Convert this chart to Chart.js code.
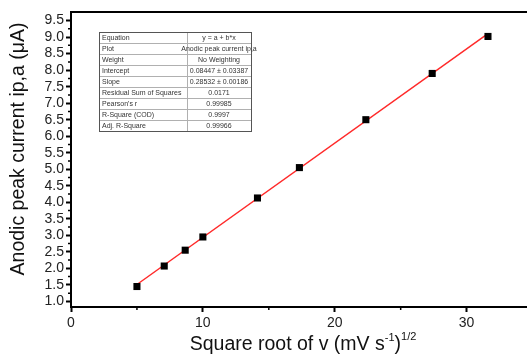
<!DOCTYPE html>
<html>
<head>
<meta charset="utf-8">
<script src="https://cdn.jsdelivr.net/npm/chart.js@4/dist/chart.umd.min.js"></script>
<style>
  html, body { margin: 0; padding: 0; background: #fff; }
  #wrap { width: 527px; height: 356px; }
</style>
</head>
<body>
<div id="wrap"><canvas id="c" width="527" height="356"></canvas></div>
<script>
// data
let sqrtScanRate = [5.0, 7.07, 8.66, 10.0, 14.14, 17.32, 22.36, 27.39, 31.62];
let peakCurrent = [1.45, 2.07, 2.55, 2.95, 4.13, 5.05, 6.50, 7.90, 9.02];

let fitIntercept = 0.08447;
let fitSlope = 0.28532;
let fitRange = [5.0, 31.62];

let xTicks = [0, 10, 20, 30];
let xMinorTicks = [5, 15, 25];
let yTicks = [1.0, 1.5, 2.0, 2.5, 3.0, 3.5, 4.0, 4.5, 5.0, 5.5, 6.0, 6.5, 7.0, 7.5, 8.0, 8.5, 9.0, 9.5];

let tableRows = [
	["Equation", "y = a + b*x"],
	["Plot", "Anodic peak current ip,a"],
	["Weight", "No Weighting"],
	["Intercept", "0.08447 \u00b1 0.03387"],
	["Slope", "0.28532 \u00b1 0.00186"],
	["Residual Sum of Squares", "0.0171"],
	["Pearson's r", "0.99985"],
	["R-Square (COD)", "0.9997"],
	["Adj. R-Square", "0.99966"]
];

let fitLine = fitRange.map(x => ({ x: x, y: fitIntercept + fitSlope * x }));
let points = sqrtScanRate.map((x, i) => ({ x: x, y: peakCurrent[i] }));

const FONT = "'Liberation Sans', Arial, sans-serif";

// frame, minor ticks, axis titles and the fit table
let decorPlugin = {
	id: "decor",
	afterDraw(chart) {
		let ctx = chart.ctx;
		let a = chart.chartArea;
		let xs = chart.scales.x, ys = chart.scales.y;
		let W = chart.width;
		ctx.save();

		ctx.strokeStyle = "#000";
		ctx.lineWidth = 2;
		ctx.beginPath();
		ctx.moveTo(a.left, a.top);
		ctx.lineTo(W, a.top);
		ctx.moveTo(a.left, a.top - 1);
		ctx.lineTo(a.left, a.bottom);
		ctx.lineTo(W, a.bottom);
		ctx.stroke();

		// minor ticks
		ctx.lineWidth = 1.5;
		ctx.beginPath();
		for (let i = 0; i < yTicks.length - 1; i++) {
			let py = ys.getPixelForValue((yTicks[i] + yTicks[i + 1]) / 2);
			ctx.moveTo(a.left - 3, py);
			ctx.lineTo(a.left, py);
		}
		xMinorTicks.forEach(v => {
			let px = xs.getPixelForValue(v);
			ctx.moveTo(px, a.bottom);
			ctx.lineTo(px, a.bottom + 3);
		});
		ctx.stroke();

		// axis titles
		ctx.fillStyle = "#111";
		ctx.font = "19.5px " + FONT;
		ctx.textAlign = "center";
		ctx.textBaseline = "middle";
		ctx.save();
		ctx.translate(19, 149);
		ctx.rotate(-Math.PI / 2);
		ctx.fillText("Anodic peak current ip,a (\u03bcA)", 0, 0);
		ctx.restore();

		let parts = [
			["Square root of v (mV s", 19.5, 0],
			["-1", 11, -7],
			[")", 19.5, 0],
			["1/2", 11, -8]
		];
		let total = 0;
		parts.forEach(p => { ctx.font = p[1] + "px " + FONT; total += ctx.measureText(p[0]).width; });
		let tx = 303 - total / 2;
		ctx.textAlign = "left";
		parts.forEach(p => {
			ctx.font = p[1] + "px " + FONT;
			ctx.fillText(p[0], tx, 345 + p[2]);
			tx += ctx.measureText(p[0]).width;
		});

		// fit table
		let left = 99, mid = 187, right = 251, top = 32, rowH = 11;
		let bottom = top + rowH * tableRows.length;
		ctx.fillStyle = "#fff";
		ctx.fillRect(left, top, right - left, bottom - top);
		ctx.strokeStyle = "#b0b0b0";
		ctx.lineWidth = 1;
		ctx.beginPath();
		for (let i = 1; i < tableRows.length; i++) {
			ctx.moveTo(left, top + i * rowH + 0.5);
			ctx.lineTo(right, top + i * rowH + 0.5);
		}
		ctx.moveTo(mid + 0.5, top);
		ctx.lineTo(mid + 0.5, bottom);
		ctx.stroke();
		ctx.strokeStyle = "#555";
		ctx.strokeRect(left + 0.5, top + 0.5, right - left, bottom - top);

		ctx.fillStyle = "#333";
		ctx.font = "7px " + FONT;
		ctx.textBaseline = "middle";
		tableRows.forEach((r, i) => {
			let cy = top + i * rowH + rowH / 2 + 1;
			ctx.textAlign = "left";
			ctx.fillText(r[0], left + 3, cy);
			ctx.textAlign = "center";
			ctx.fillText(r[1], (mid + right) / 2, cy);
		});

		ctx.restore();
	}
};

new Chart(document.getElementById("c"), {
	type: "scatter",
	data: {
		datasets: [
			{
				type: "line",
				data: fitLine,
				borderColor: "#ff2a2a",
				borderWidth: 1.5,
				pointRadius: 0,
				fill: false,
				order: 2
			},
			{
				data: points,
				pointStyle: "rect",
				pointRadius: 5,
				backgroundColor: "#000",
				borderColor: "#000",
				borderWidth: 0,
				order: 1
			}
		]
	},
	options: {
		responsive: false,
		animation: false,
		layout: { padding: { top: 12, right: 0, left: 0, bottom: 0 } },
		plugins: { legend: { display: false }, tooltip: { enabled: false } },
		scales: {
			x: {
				type: "linear",
				min: 0,
				max: 34.2,
				afterFit(scale) { scale.height = 49; },
				afterBuildTicks(scale) { scale.ticks = xTicks.map(v => ({ value: v })); },
				border: { display: false },
				grid: { drawOnChartArea: false, drawTicks: true, tickLength: 5, tickColor: "#000", tickWidth: 2 },
				ticks: { color: "#222", font: { family: FONT, size: 14 }, padding: 3, maxRotation: 0, autoSkip: false }
			},
			y: {
				type: "linear",
				min: 0.83,
				max: 9.76,
				afterFit(scale) { scale.width = 71; },
				afterBuildTicks(scale) { scale.ticks = yTicks.map(v => ({ value: v })); },
				border: { display: false },
				grid: { drawOnChartArea: false, drawTicks: true, tickLength: 5, tickColor: "#000", tickWidth: 2 },
				ticks: {
					color: "#222",
					font: { family: FONT, size: 14 },
					padding: 2,
					autoSkip: false,
					callback: v => v.toFixed(1)
				}
			}
		}
	},
	plugins: [decorPlugin]
});
</script>
</body>
</html>
